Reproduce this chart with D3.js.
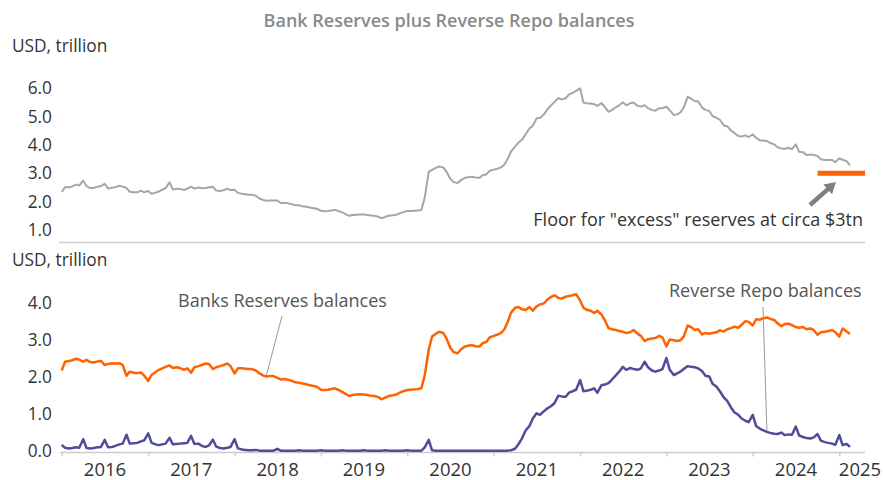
<!DOCTYPE html>
<html>
<head>
<meta charset="utf-8">
<script src="https://cdn.jsdelivr.net/npm/d3@7"></script>
<style>
  html, body { margin: 0; padding: 0; background: #fff; }
  svg { display: block; font-family: "Open Sans", "Noto Sans", sans-serif; }
</style>
</head>
<body>
<svg id="chart" width="883" height="480"></svg>
<script>
// Bank reserves balances, USD trillion, observations on the 1st and 15th of each month (Jan 2016 - Feb 2025)
const reserves = [
  // 2016
  2.18, 2.42, 2.44, 2.46, 2.50, 2.48, 2.42, 2.47, 2.41, 2.40, 2.43, 2.44, 2.33, 2.36, 2.38, 2.37, 2.38, 2.33, 2.04, 2.15, 2.12, 2.11, 2.13, 2.04,
  // 2017
  1.90, 2.06, 2.14, 2.20, 2.24, 2.28, 2.32, 2.25, 2.27, 2.25, 2.20, 2.24, 2.12, 2.27, 2.30, 2.33, 2.37, 2.36, 2.22, 2.27, 2.30, 2.33, 2.37, 2.30,
  // 2018
  2.10, 2.24, 2.24, 2.23, 2.22, 2.22, 2.18, 2.11, 2.05, 2.02, 2.03, 2.03, 1.98, 1.94, 1.95, 1.93, 1.90, 1.86, 1.85, 1.83, 1.81, 1.78, 1.76, 1.74,
  // 2019
  1.66, 1.65, 1.66, 1.68, 1.70, 1.66, 1.60, 1.55, 1.49, 1.52, 1.53, 1.54, 1.53, 1.52, 1.50, 1.49, 1.46, 1.40, 1.45, 1.49, 1.51, 1.53, 1.58, 1.62,
  // 2020
  1.65, 1.66, 1.67, 1.68, 1.70, 2.05, 2.75, 3.10, 3.18, 3.23, 3.20, 3.05, 2.80, 2.68, 2.65, 2.75, 2.83, 2.85, 2.87, 2.84, 2.83, 2.92, 2.96, 3.08,
  // 2021
  3.12, 3.15, 3.20, 3.30, 3.50, 3.75, 3.88, 3.90, 3.84, 3.82, 3.90, 3.80, 3.92, 3.97, 4.00, 4.10, 4.18, 4.22, 4.15, 4.13, 4.18, 4.20, 4.22, 4.25,
  // 2022
  4.08, 3.88, 3.82, 3.80, 3.74, 3.80, 3.70, 3.55, 3.33, 3.30, 3.28, 3.25, 3.23, 3.20, 3.22, 3.28, 3.18, 3.12, 2.98, 3.03, 3.05, 3.06, 3.12, 3.08,
  // 2023
  2.83, 3.02, 3.00, 2.98, 3.00, 3.10, 3.40, 3.36, 3.28, 3.30, 3.16, 3.20, 3.18, 3.20, 3.22, 3.27, 3.24, 3.30, 3.33, 3.37, 3.34, 3.42, 3.52, 3.50,
  // 2024
  3.40, 3.57, 3.56, 3.60, 3.62, 3.58, 3.55, 3.46, 3.38, 3.44, 3.45, 3.41, 3.36, 3.34, 3.36, 3.30, 3.32, 3.28, 3.15, 3.22, 3.23, 3.25, 3.28, 3.22,
  // 2025
  3.10, 3.32, 3.24, 3.17
];

// Reverse repo balances, USD trillion, same observation dates
const reverseRepo = [
  // 2016
  0.16, 0.09, 0.07, 0.08, 0.10, 0.09, 0.32, 0.08, 0.07, 0.08, 0.10, 0.11, 0.30, 0.10, 0.11, 0.14, 0.18, 0.20, 0.44, 0.20, 0.21, 0.22, 0.26, 0.29,
  // 2017
  0.48, 0.22, 0.18, 0.16, 0.18, 0.20, 0.36, 0.18, 0.19, 0.20, 0.21, 0.22, 0.41, 0.19, 0.20, 0.14, 0.11, 0.15, 0.31, 0.12, 0.08, 0.07, 0.09, 0.11,
  // 2018
  0.32, 0.07, 0.04, 0.03, 0.02, 0.02, 0.03, 0.01, 0.01, 0.01, 0.01, 0.01, 0.06, 0.01, 0.01, 0.01, 0.01, 0.01, 0.02, 0.01, 0.01, 0.01, 0.01, 0.01,
  // 2019
  0.02, 0.01, 0.01, 0.01, 0.01, 0.01, 0.02, 0.01, 0.01, 0.01, 0.01, 0.01, 0.02, 0.01, 0.01, 0.01, 0.01, 0.01, 0.02, 0.01, 0.01, 0.01, 0.01, 0.01,
  // 2020
  0.02, 0.01, 0.01, 0.01, 0.01, 0.10, 0.30, 0.02, 0.01, 0.01, 0.01, 0.01, 0.01, 0.01, 0.01, 0.01, 0.01, 0.01, 0.01, 0.01, 0.01, 0.01, 0.01, 0.01,
  // 2021
  0.01, 0.01, 0.01, 0.01, 0.01, 0.02, 0.06, 0.18, 0.35, 0.55, 0.68, 0.88, 1.02, 0.98, 1.08, 1.15, 1.22, 1.30, 1.50, 1.48, 1.47, 1.58, 1.62, 1.66,
  // 2022
  1.92, 1.62, 1.64, 1.66, 1.70, 1.58, 1.78, 1.80, 1.84, 1.93, 2.05, 2.15, 2.28, 2.20, 2.25, 2.22, 2.20, 2.24, 2.42, 2.27, 2.18, 2.15, 2.18, 2.22,
  // 2023
  2.52, 2.20, 2.06, 2.10, 2.15, 2.22, 2.30, 2.28, 2.27, 2.24, 2.16, 2.04, 2.02, 1.82, 1.74, 1.62, 1.45, 1.36, 1.18, 1.05, 0.98, 0.88, 0.82, 0.78,
  // 2024
  0.98, 0.68, 0.60, 0.56, 0.52, 0.49, 0.47, 0.46, 0.50, 0.43, 0.45, 0.44, 0.66, 0.42, 0.38, 0.35, 0.34, 0.37, 0.46, 0.28, 0.24, 0.22, 0.20, 0.17,
  // 2025
  0.43, 0.16, 0.19, 0.11
];

const yearTicks = [2016, 2017, 2018, 2019, 2020, 2021, 2022, 2023, 2024, 2025];
const topTicks = [1, 2, 3, 4, 5, 6];
const bottomTicks = [0, 1, 2, 3, 4];
const floorLevel = 3.0;              // "excess" reserves floor, USD trillion
const floorSpan = ["2024-10-01", "2025-04-20"];

// Observation dates: 1st and 15th of each month
const dates = [];
for (let y = 2016; y <= 2025; y++) {
  for (let m = 0; m < 12; m++) {
    if (y === 2025 && m > 1) break;
    dates.push(new Date(y, m, 1));
    dates.push(new Date(y, m, 15));
  }
}
// Combined balance = reserves + reverse repo
const totalBalances = reserves.map((v, i) => v + reverseRepo[i]);

const svg = d3.select("#chart");
const parse = d3.timeParse("%Y-%m-%d");

const x = d3.scaleTime()
  .domain([new Date(2016, 0, 1), new Date(2025, 0, 1)])
  .range([61.7, 839.3]);
const yTop = d3.scaleLinear().domain([1, 6]).range([230, 88.3]);
const yBot = d3.scaleLinear().domain([0, 4]).range([451, 303.4]);

const axisRight = 865;
const axisColor = "#cccccc";
const textDark = "#333333";
const textMid = "#555555";

// Title
svg.append("text")
  .attr("x", 449).attr("y", 27)
  .attr("text-anchor", "middle")
  .attr("font-size", 18).attr("font-weight", 600)
  .attr("fill", "#8a8a8a")
  .text("Bank Reserves plus Reverse Repo balances");

// Unit labels
svg.append("text").attr("x", 12).attr("y", 52)
  .attr("font-size", 17.3).attr("fill", textDark).text("USD, trillion");
svg.append("text").attr("x", 12).attr("y", 266)
  .attr("font-size", 17.3).attr("fill", textDark).text("USD, trillion");

// ---- Top panel: combined balances ----
svg.append("g").selectAll("text").data(topTicks).join("text")
  .attr("x", 52).attr("y", d => yTop(d))
  .attr("dy", "0.35em").attr("text-anchor", "end")
  .attr("font-size", 17.3).attr("fill", textDark)
  .text(d => d.toFixed(1));

svg.append("line")
  .attr("x1", 59).attr("x2", axisRight)
  .attr("y1", 242.5).attr("y2", 242.5)
  .attr("stroke", axisColor).attr("stroke-width", 1.5);

const lineTop = d3.line()
  .x((d, i) => x(dates[i]))
  .y(d => yTop(d));

svg.append("path")
  .datum(totalBalances)
  .attr("fill", "none")
  .attr("stroke", "#a6a6a6")
  .attr("stroke-width", 2)
  .attr("stroke-linejoin", "round")
  .attr("d", lineTop);

// Floor marker
svg.append("line")
  .attr("x1", x(parse(floorSpan[0]))).attr("x2", x(parse(floorSpan[1])))
  .attr("y1", yTop(floorLevel)).attr("y2", yTop(floorLevel))
  .attr("stroke", "#ff6200").attr("stroke-width", 5);

// Arrow pointing to the floor marker
(function () {
  const tail = [810, 205], tip = [836, 182];
  const dx = tip[0] - tail[0], dy = tip[1] - tail[1];
  const len = Math.hypot(dx, dy);
  const ux = dx / len, uy = dy / len, nx = -uy, ny = ux;
  const headLen = 11, headHalf = 6.5;
  const bx = tip[0] - ux * headLen, by = tip[1] - uy * headLen;
  svg.append("line")
    .attr("x1", tail[0]).attr("y1", tail[1])
    .attr("x2", bx + ux).attr("y2", by + uy)
    .attr("stroke", "#808080").attr("stroke-width", 4.5);
  svg.append("path")
    .attr("d", `M${tip[0]},${tip[1]}L${bx + nx * headHalf},${by + ny * headHalf}L${bx - nx * headHalf},${by - ny * headHalf}Z`)
    .attr("fill", "#808080");
})();

svg.append("text")
  .attr("x", 863).attr("y", 226)
  .attr("text-anchor", "end")
  .attr("font-size", 18).attr("fill", textDark)
  .text('Floor for "excess" reserves at circa $3tn');

// ---- Bottom panel: reserves and reverse repo ----
svg.append("g").selectAll("text").data(bottomTicks).join("text")
  .attr("x", 52).attr("y", d => yBot(d))
  .attr("dy", "0.35em").attr("text-anchor", "end")
  .attr("font-size", 17.3).attr("fill", textDark)
  .text(d => d.toFixed(1));

const axisY = yBot(0) + 1.5;
svg.append("line")
  .attr("x1", 60).attr("x2", axisRight)
  .attr("y1", axisY).attr("y2", axisY)
  .attr("stroke", axisColor).attr("stroke-width", 1.5);

const xAxis = svg.append("g")
  .attr("transform", `translate(0,${axisY})`)
  .call(d3.axisBottom(x)
    .tickValues(yearTicks.map(y => new Date(y, 0, 1)))
    .tickSize(4)
    .tickFormat(""));
xAxis.select(".domain").remove();
xAxis.selectAll(".tick line").attr("stroke", axisColor).attr("stroke-width", 1.5);

// Year labels sit in the middle of each year, kept inside the plot's right edge
svg.append("g").selectAll("text").data(yearTicks).join("text")
  .attr("x", y => Math.min(x(new Date(y, 6, 2)), axisRight - 5))
  .attr("y", 476)
  .attr("text-anchor", "middle")
  .attr("font-size", 18.5).attr("fill", textDark)
  .text(y => y);

const lineBot = d3.line()
  .x((d, i) => x(dates[i]))
  .y(d => yBot(d));

svg.append("path")
  .datum(reverseRepo)
  .attr("fill", "none")
  .attr("stroke", "#4f4d9a")
  .attr("stroke-width", 2.5)
  .attr("stroke-linejoin", "round")
  .attr("d", lineBot);

svg.append("path")
  .datum(reserves)
  .attr("fill", "none")
  .attr("stroke", "#ff6200")
  .attr("stroke-width", 2.5)
  .attr("stroke-linejoin", "round")
  .attr("d", lineBot);

// Series labels with leader lines
const seriesLabels = [
  { text: "Banks Reserves balances", tx: 178, ty: 307, lx: 282, ly: 316, date: "2018-05-15", value: 2.04 },
  { text: "Reverse Repo balances", tx: 669, ty: 297, lx: 763, ly: 307, date: "2024-03-01", value: 0.55 }
];
seriesLabels.forEach(s => {
  svg.append("line")
    .attr("x1", s.lx).attr("y1", s.ly)
    .attr("x2", x(parse(s.date))).attr("y2", yBot(s.value))
    .attr("stroke", "#9a9a9a").attr("stroke-width", 1);
  svg.append("text")
    .attr("x", s.tx).attr("y", s.ty)
    .attr("font-size", 18).attr("fill", textMid)
    .text(s.text);
});
</script>
</body>
</html>
